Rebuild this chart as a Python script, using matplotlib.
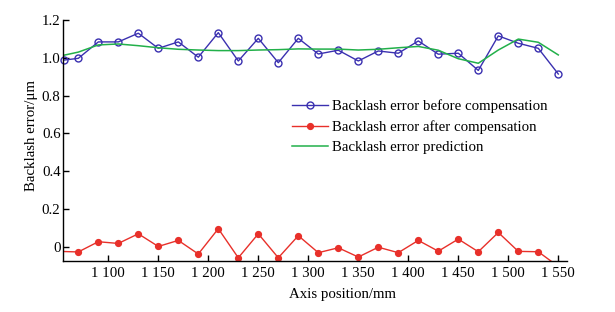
import numpy as np
import matplotlib
matplotlib.use("Agg")
import matplotlib.pyplot as plt
from matplotlib.ticker import FuncFormatter

plt.rcParams['font.family'] = ['Liberation Serif', 'DejaVu Serif']
plt.rcParams['mathtext.fontset'] = 'stix'

# 轴位置 (mm)
pos_before = [1056, 1070, 1090, 1110, 1130, 1150, 1170, 1190, 1210, 1230, 1250,
              1270, 1290, 1310, 1330, 1350, 1370, 1390, 1410, 1430, 1450,
              1470, 1490, 1510, 1530, 1550]
pos_after = [1050, 1070, 1090, 1110, 1130, 1150, 1170, 1190, 1210, 1230, 1250,
             1270, 1290, 1310, 1330, 1350, 1370, 1390, 1410, 1430, 1450,
             1470, 1490, 1510, 1530, 1550]

# 补偿前反向间隙误差
err_before = [0.988, 0.997, 1.084, 1.084, 1.130, 1.050, 1.084, 1.003, 1.133,
              0.983, 1.103, 0.974, 1.103, 1.020, 1.040, 0.983, 1.036, 1.024,
              1.089, 1.019, 1.024, 0.933, 1.116, 1.077, 1.050, 0.914]
# 补偿后反向间隙误差
err_after = [-0.025, -0.028, 0.026, 0.017, 0.068, 0.001, 0.033, -0.039, 0.095,
             -0.059, 0.068, -0.059, 0.058, -0.032, -0.006, -0.055, -0.003,
             -0.032, 0.033, -0.024, 0.040, -0.027, 0.075, -0.025, -0.027, -0.105]
# 预测值
err_pred = [1.014, 1.030, 1.068, 1.073, 1.064, 1.053, 1.045, 1.041, 1.038,
            1.038, 1.041, 1.043, 1.047, 1.046, 1.046, 1.041, 1.045, 1.053,
            1.060, 1.040, 0.995, 0.971, 1.041, 1.099, 1.082, 1.015]

xticks = [1100, 1150, 1200, 1250, 1300, 1350, 1400, 1450, 1500, 1550]
yticks = [0, 0.2, 0.4, 0.6, 0.8, 1.0, 1.2]

FS = 10.7

fig = plt.figure(figsize=(6.15, 3.12), dpi=100)
ax = fig.add_axes([63.3 / 615, 1 - 261 / 312, (566.7 - 63.3) / 615, (261 - 20) / 312])

ax.plot(pos_before, err_before, color='#3a30b0', lw=1.0, marker='o', ms=5,
        mfc='none', mec='#3a30b0', mew=1.0, clip_on=False,
        label='Backlash error before compensation')
ax.plot(pos_after, err_after, color='#e8302a', lw=1.0, marker='o', ms=4.2,
        mfc='#e8302a', mec='#e8302a',
        label='Backlash error after compensation')
ax.plot(pos_before, err_pred, color='#22b04a', lw=1.1,
        label='Backlash error prediction')

ax.set_xlim(1055, 1558.4)
ax.set_ylim(-0.076, 1.2)
ax.set_xticks(xticks)
ax.set_yticks(yticks)
ax.xaxis.set_major_formatter(FuncFormatter(lambda v, p: f"{int(v) // 1000} {int(v) % 1000:03d}"))
ax.yaxis.set_major_formatter(FuncFormatter(lambda v, p: "0" if abs(v) < 1e-9 else f"{v:.1f}"))

for s in ['top', 'right']:
    ax.spines[s].set_visible(False)
for s in ['left', 'bottom']:
    ax.spines[s].set_linewidth(1.0)
ax.tick_params(direction='in', length=4.5, width=1.0, labelsize=FS)
ax.tick_params(axis='x', pad=4)
ax.tick_params(axis='y', pad=2)

ax.set_xlabel('Axis position/mm', fontsize=FS)
ax.xaxis.set_label_coords(0.555, -0.112)
ax.set_ylabel('Backlash error/μm', fontsize=FS)
ax.yaxis.set_label_coords(-0.05, 0.52)

ax.legend(loc='upper left', bbox_to_anchor=((292 - 63.3) / 503.4, (261 - 99.5) / 241),
          frameon=False, fontsize=FS, handlelength=2.4, handletextpad=0.3,
          labelspacing=0.45, borderpad=0, borderaxespad=0)

fig.savefig('out.png', dpi=100)
